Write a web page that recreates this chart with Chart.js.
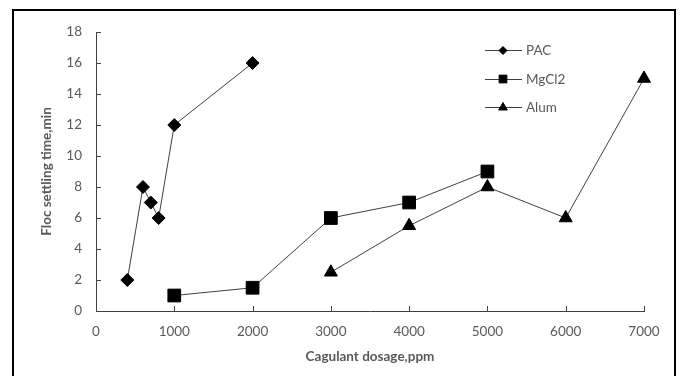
<!DOCTYPE html>
<html>
<head>
<meta charset="utf-8">
<script src="https://cdn.jsdelivr.net/npm/chart.js@4"></script>
<style>
  html, body { margin: 0; padding: 0; background: #fff; }
  #wrap { width: 681px; height: 376px; }
</style>
</head>
<body>
<div id="wrap"><canvas id="chart"></canvas></div>
<script>
// data
const pacDose = [400, 600, 700, 800, 1000, 2000];
const pacTime = [2, 8, 7, 6, 12, 16];
const mgDose = [1000, 2000, 3000, 4000, 5000];
const mgTime = [1, 1.5, 6, 7, 9];
const alumDose = [3000, 4000, 5000, 6000, 7000];
const alumTime = [2.5, 5.5, 8, 6, 15];
const seriesNames = ["PAC", "MgCl2", "Alum"];

const FONT = "Lato, 'Open Sans', sans-serif";
const GREY = "#595959";

function toPoints(xs, ys) {
    return xs.map((x, i) => ({ x: x, y: ys[i] }));
}

function makeSeries(label, xs, ys, style, radius) {
    return {
        label: label,
        data: toPoints(xs, ys),
        showLine: true,
        borderColor: "#404040",
        borderWidth: 1,
        pointStyle: style,
        pointRadius: radius,
        pointHoverRadius: radius,
        pointBackgroundColor: "#000",
        pointBorderColor: "#000",
        pointBorderWidth: 1,
        clip: false
    };
}

// inside tick marks, frame and the line+marker legend
const extras = {
    id: "extras",
    afterDraw(chart) {
        const ctx = chart.ctx;
        const xs = chart.scales.x, ys = chart.scales.y;
        const area = chart.chartArea;
        ctx.save();
        ctx.strokeStyle = "#404040";
        ctx.lineWidth = 1;
        ctx.beginPath();
        xs.ticks.forEach(t => {
            const px = Math.round(xs.getPixelForValue(t.value)) + 0.5;
            ctx.moveTo(px, area.bottom);
            ctx.lineTo(px, area.bottom - 5);
        });
        ys.ticks.forEach(t => {
            const py = Math.round(ys.getPixelForValue(t.value)) + 0.5;
            ctx.moveTo(area.left, py);
            ctx.lineTo(area.left + 5, py);
        });
        ctx.stroke();

        // legend
        const styles = ["rectRot", "rect", "triangle"];
        const sizes = [4, 5.5, 5];
        seriesNames.forEach((name, i) => {
            const y = 50 + i * 28.5;
            ctx.strokeStyle = "#404040";
            ctx.beginPath();
            ctx.moveTo(485, Math.round(y) + 0.5);
            ctx.lineTo(522, Math.round(y) + 0.5);
            ctx.stroke();
            ctx.fillStyle = "#000";
            ctx.strokeStyle = "#000";
            Chart.helpers.drawPoint(ctx, { pointStyle: styles[i], radius: sizes[i], borderWidth: 1 }, 503, y + 0.5);
            ctx.fillStyle = GREY;
            ctx.font = "13.5px " + FONT;
            ctx.textBaseline = "middle";
            ctx.textAlign = "left";
            ctx.fillText(name, 526, y + 1);
        });

        // outer frame
        ctx.strokeStyle = "#000";
        ctx.lineWidth = 2;
        ctx.strokeRect(13, 10, 662, 400);
        ctx.restore();
    }
};

new Chart(document.getElementById("chart"), {
    type: "scatter",
    data: {
        datasets: [
            makeSeries(seriesNames[0], pacDose, pacTime, "rectRot", 6.5),
            makeSeries(seriesNames[1], mgDose, mgTime, "rect", 9),
            makeSeries(seriesNames[2], alumDose, alumTime, "triangle", 7.5)
        ]
    },
    options: {
        responsive: true,
        maintainAspectRatio: false,
        animation: false,
        layout: { padding: { left: 0, top: 32, right: 37, bottom: 0 } },
        plugins: { legend: { display: false }, tooltip: { enabled: false } },
        scales: {
            x: {
                type: "linear",
                min: 0,
                max: 7000,
                afterFit(scale) { scale.height = 65; },
                grid: { display: false, drawTicks: false },
                border: { display: true, color: "#404040", width: 1 },
                ticks: {
                    stepSize: 1000,
                    padding: 13,
                    color: GREY,
                    font: { family: FONT, size: 13.5 },
                    callback: v => String(v)
                },
                title: {
                    display: true,
                    text: "Cagulant dosage,ppm",
                    color: GREY,
                    font: { family: FONT, size: 13.5, weight: "bold" },
                    padding: { top: 0, bottom: 11 }
                }
            },
            y: {
                min: 0,
                max: 18,
                afterFit(scale) { scale.width = 96; },
                grid: { display: false, drawTicks: false },
                border: { display: true, color: "#404040", width: 1 },
                ticks: { stepSize: 2, padding: 14, color: GREY, font: { family: FONT, size: 13.5 } },
                title: {
                    display: true,
                    text: "Floc settling time,min",
                    color: GREY,
                    font: { family: FONT, size: 13.5, weight: "bold" },
                    padding: { top: 39, bottom: 0 }
                }
            }
        }
    },
    plugins: [extras]
});
</script>
</body>
</html>
